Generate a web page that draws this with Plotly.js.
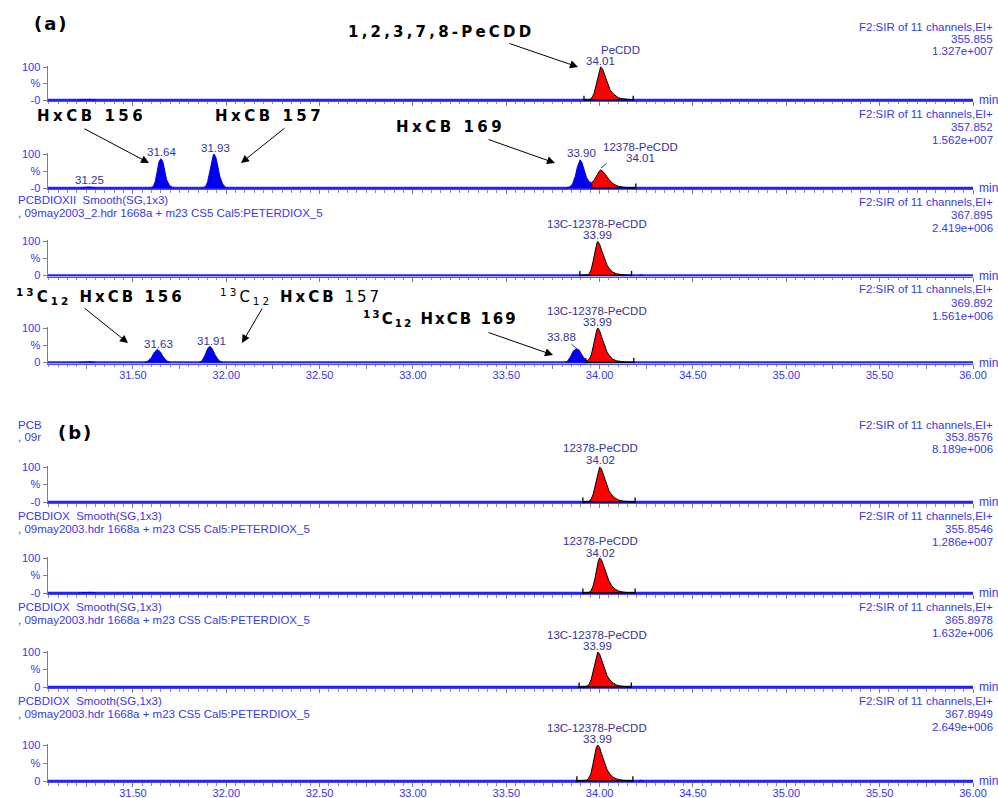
<!DOCTYPE html>
<html><head><meta charset="utf-8">
<script src="https://cdn.plot.ly/plotly-3.0.1.min.js"></script>
<style>html,body{margin:0;padding:0;background:#fff;}#chart{width:998px;height:798px;}</style>
</head><body><div id="chart"></div>
<script>
// ---------------- DATA (retention time in min, intensity in %) ----------------
const xRange = [31.045, 36.0];
const baselineX = [31.045, 36.0];
const baselineY = [0, 0];
const xTickVals = [31.25,31.5,31.75,32.0,32.25,32.5,32.75,33.0,33.25,33.5,33.75,34.0,34.25,34.5,34.75,35.0,35.25,35.5,35.75,36.0];
const xTickText = ['','31.50','','32.00','','32.50','','33.00','','33.50','','34.00','','34.50','','35.00','','35.50','','36.00'];
const yZeroLabels = ['-0','-0','0','0','-0','-0','0','0'];

// (a) panel 1 : 355.855
const a1BlipX = [31.21,31.24,31.27,31.30];
const a1BlipY = [0,2,2,0];
const a1RedX = [33.916,33.94,33.95,33.96,33.97,33.98,33.99,34.0,34.005,34.015,34.025,34.04,34.055,34.07,34.085,34.1,34.12,34.145,34.18];
const a1RedY = [0,0,3,8,20,42,70,93,100,95,80,52,32,20,12,7,4,2,0];
// (a) panel 2 : 357.852
const a2Blue1X = [31.22,31.24,31.26,31.28,31.30];
const a2Blue1Y = [0,2,3,2,0];
const a2Blue2X = [31.595,31.61,31.62,31.63,31.64,31.65,31.66,31.67,31.68,31.695,31.715];
const a2Blue2Y = [0,5,20,50,78,86,78,52,25,8,0];
const a2Blue3X = [31.875,31.89,31.90,31.91,31.92,31.93,31.935,31.945,31.955,31.965,31.98,32.0];
const a2Blue3Y = [0,5,18,45,75,96,100,88,62,35,12,0];
const a2Blue4X = [33.82,33.84,33.855,33.87,33.88,33.89,33.895,33.905,33.915,33.93,33.945,33.957];
const a2Blue4Y = [0,3,12,35,60,80,83,75,55,30,18,16];
const a2RedX = [33.957,33.97,33.98,33.99,34.0,34.005,34.015,34.03,34.045,34.06,34.08,34.1,34.13,34.16,34.194];
const a2RedY = [16,22,32,44,51,53,50,40,28,18,10,5,2,1,0];
// (a) panel 3 : 367.895
const a3RedX = [33.894,33.92,33.935,33.945,33.955,33.965,33.975,33.985,33.99,34.0,34.01,34.025,34.04,34.055,34.07,34.09,34.11,34.14,34.171];
const a3RedY = [0,0,2,6,18,42,72,95,100,92,75,50,30,18,10,5,3,1,0];
const a3BlipX = [34.21,34.22,34.235];
const a3BlipY = [0,2,0];
// (a) panel 4 : 369.892
const a4Blue1X = [31.21,31.24,31.27,31.30];
const a4Blue1Y = [0,2,2,0];
const a4Blue2X = [31.56,31.58,31.60,31.615,31.63,31.645,31.66,31.68,31.70];
const a4Blue2Y = [0,4,15,30,38,32,18,5,0];
const a4Blue3X = [31.855,31.87,31.885,31.90,31.912,31.925,31.94,31.96,31.98];
const a4Blue3Y = [0,5,20,40,47,40,22,6,0];
const a4Blue4X = [33.815,33.83,33.845,33.86,33.877,33.89,33.905,33.92,33.926];
const a4Blue4Y = [0,5,18,34,40,36,22,8,5];
const a4RedX = [33.926,33.935,33.945,33.955,33.965,33.975,33.985,33.99,34.0,34.01,34.025,34.04,34.055,34.07,34.09,34.11,34.14,34.183];
const a4RedY = [5,6,10,22,45,72,95,100,92,75,50,30,18,10,5,3,1,0];
// (b) panel 1 : 353.8576
const b1RedX = [33.91,33.935,33.945,33.955,33.965,33.975,33.985,33.993,34.0,34.01,34.02,34.035,34.05,34.065,34.08,34.1,34.12,34.15,34.19];
const b1RedY = [0,0,3,9,22,45,72,93,100,94,78,52,32,20,12,6,3,1,0];
// (b) panel 2 : 355.8546
const b2BlipX = [31.21,31.24,31.27,31.30];
const b2BlipY = [0,2,2,0];
const b2RedX = [33.91,33.935,33.945,33.955,33.965,33.975,33.985,33.993,34.0,34.01,34.02,34.035,34.05,34.065,34.08,34.1,34.12,34.15,34.19];
const b2RedY = [0,0,2,8,20,42,70,92,100,95,80,55,34,21,12,6,3,1,0];
// (b) panel 3 : 365.8978
const b3RedX = [33.89,33.92,33.935,33.945,33.955,33.965,33.975,33.983,33.99,34.0,34.01,34.025,34.04,34.055,34.07,34.09,34.11,34.14,34.17];
const b3RedY = [0,0,3,9,22,45,72,93,100,94,78,52,32,20,12,6,3,1,0];
// (b) panel 4 : 367.8949
const b4RedX = [33.878,33.915,33.93,33.942,33.953,33.963,33.973,33.982,33.99,34.0,34.01,34.025,34.04,34.055,34.07,34.09,34.11,34.14,34.178];
const b4RedY = [0,0,2,8,20,44,72,93,100,93,76,50,31,19,11,6,3,1,0];
const b4BlipX = [34.21,34.22,34.235];
const b4BlipY = [0,2,0];

// integration markers (start / end times)
const integStart = [33.916,33.957,33.894,33.926,33.91,33.91,33.89,33.878];
const integEnd   = [34.18,34.194,34.171,34.183,34.19,34.19,34.17,34.178];

// header texts
const massLabels = ['355.855','357.852','367.895','369.892','353.8576','355.8546','365.8978','367.8949'];
const scaleLabels = ['1.327e+007','1.562e+007','2.419e+006','1.561e+006','8.189e+006','1.286e+007','1.632e+006','2.649e+006'];

// ---------------- BUILD ----------------
const blueSeries = [
  [[a1BlipX,a1BlipY]],
  [[a2Blue1X,a2Blue1Y],[a2Blue2X,a2Blue2Y],[a2Blue3X,a2Blue3Y],[a2Blue4X,a2Blue4Y]],
  [[a3BlipX,a3BlipY]],
  [[a4Blue1X,a4Blue1Y],[a4Blue2X,a4Blue2Y],[a4Blue3X,a4Blue3Y],[a4Blue4X,a4Blue4Y]],
  [],
  [[b2BlipX,b2BlipY]],
  [],
  [[b4BlipX,b4BlipY]]
];
const redSeries = [[a1RedX,a1RedY],[a2RedX,a2RedY],[a3RedX,a3RedY],[a4RedX,a4RedY],[b1RedX,b1RedY],[b2RedX,b2RedY],[b3RedX,b3RedY],[b4RedX,b4RedY]];

// layout geometry (pixel rows of 100 % and 0 %)
const geo = [{T:67,B:100},{T:154,B:188},{T:241.5,B:275.5},{T:328,B:362.5},
             {T:467,B:502},{T:558,B:593},{T:652,B:687},{T:745,B:781}];
const W = 998, H = 798;
const PX = p => p / W, PY = p => 1 - p / H;
const FONT = 'Liberation Sans, Arial, sans-serif';
const BIG = 'DejaVu Sans, sans-serif';
const HEAD_COL = '#3838e8', LBL_COL = '#333399', TICK_COL = '#3535f0';

const traces = [];
const layout = {width:W, height:H, margin:{l:0,r:0,t:0,b:0}, paper_bgcolor:'#fff', plot_bgcolor:'#fff', showlegend:false, annotations:[]};

geo.forEach((g, i) => {
  const xa = i ? 'x' + (i + 1) : 'x', ya = i ? 'y' + (i + 1) : 'y';
  const unit = (g.B - g.T) / 100;
  const bot = g.B + 3 * unit, top = g.T - 4 * unit;
  const last = (i === 3 || i === 7);
  layout['xaxis' + (i ? i + 1 : '')] = {
    domain:[PX(48), PX(973)], range:xRange, anchor:ya, showline:true, linecolor:'#4a4aff', linewidth:1,
    ticks:'outside', tickmode:'array', tickvals:xTickVals, ticktext:xTickText, ticklen:4, tickwidth:1, tickcolor:'#808080',
    minor:{ticks:'outside', dtick:0.05, tick0:31.0, ticklen:2.5, tickwidth:1, tickcolor:'#909090', showgrid:false},
    showticklabels:last, tickfont:{family:FONT, size:11, color:TICK_COL}, ticklabelstandoff:-3,
    showgrid:false, zeroline:false, fixedrange:true
  };
  layout['yaxis' + (i ? i + 1 : '')] = {
    domain:[PY(bot), PY(top)], range:[-3,104], anchor:xa, showline:true, linecolor:'#808080', linewidth:1.5,
    ticks:'outside', tickmode:'array', tickvals:[0,50,100], ticktext:[yZeroLabels[i],'%','100'], ticklen:4, tickcolor:'#808080',
    tickfont:{family:FONT, size:11, color:TICK_COL}, showgrid:false, zeroline:false, fixedrange:true
  };
  // baseline trace
  traces.push({x:baselineX, y:baselineY, xaxis:xa, yaxis:ya, mode:'lines', line:{color:'#2222ff', width:2.5}, hoverinfo:'skip'});
  blueSeries[i].forEach(s => traces.push({x:s[0], y:s[1], xaxis:xa, yaxis:ya, mode:'lines', fill:'tozeroy',
    fillcolor:'#0000ee', line:{color:'#0000ee', width:1}, hoverinfo:'skip'}));
  const r = redSeries[i];
  traces.push({x:r[0], y:r[1], xaxis:xa, yaxis:ya, mode:'lines', fill:'tozeroy', fillcolor:'#ff0000',
    line:{color:'#000', width:1}, hoverinfo:'skip'});
  traces.push({x:[integStart[i],integStart[i],null,integStart[i],integEnd[i],null,integEnd[i],integEnd[i]],
    y:[13,-3,null,0.5,0.5,null,13,-3], xaxis:xa, yaxis:ya, mode:'lines', line:{color:'#000', width:1.3}, hoverinfo:'skip', connectgaps:false});
  // header at right
  const rowsR = i === 0 ? [27,39,51] : (i === 4 ? [425,437,449] : [geo[i-1].B + 14, geo[i-1].B + 27, geo[i-1].B + 40]);
  ['F2:SIR of 11 channels,EI+', massLabels[i], scaleLabels[i]].forEach((t, k) => {
    layout.annotations.push({text:t, xref:'paper', yref:'paper', x:PX(994), y:PY(rowsR[k]), xanchor:'right', yanchor:'middle',
      showarrow:false, borderpad:0, font:{family:FONT, size:11.5, color:HEAD_COL}});
  });
  // "min"
  layout.annotations.push({text:'min', xref:'paper', yref:'paper', x:PX(999), y:PY(g.B), xanchor:'right', yanchor:'middle',
    showarrow:false, borderpad:0, font:{family:FONT, size:12, color:HEAD_COL}});
  // left header
  let left = null;
  if (i === 2) left = ['PCBDIOXII  Smooth(SG,1x3)', ', 09may2003_2.hdr 1668a + m23 CS5 Cal5:PETERDIOX_5'];
  if (i === 4) left = ['PCB', ', 09r'];
  if (i >= 5) left = ['PCBDIOX  Smooth(SG,1x3)', ', 09may2003.hdr 1668a + m23 CS5 Cal5:PETERDIOX_5'];
  if (left) {
    left.forEach((t, k) => layout.annotations.push({text:t, xref:'paper', yref:'paper', x:PX(17), y:PY(rowsR[k] - (i===2?2:0)),
      xanchor:'left', yanchor:'middle', showarrow:false, borderpad:0, font:{family:FONT, size:11.5, color:HEAD_COL}}));
  }
});

// peak labels
function lbl(t, xp, yp) {
  layout.annotations.push({text:t, xref:'paper', yref:'paper', x:PX(xp), y:PY(yp), xanchor:'center', yanchor:'middle',
    showarrow:false, borderpad:0, font:{family:FONT, size:11.5, color:LBL_COL}});
}
lbl('PeCDD', 620, 50); lbl('34.01', 600, 61);
lbl('31.25', 89, 180); lbl('31.64', 161, 152); lbl('31.93', 215, 148); lbl('33.90', 581, 153);
lbl('12378-PeCDD', 640, 147); lbl('34.01', 640, 158);
lbl('13C-12378-PeCDD', 597, 224); lbl('33.99', 597, 235);
lbl('13C-12378-PeCDD', 597, 311); lbl('33.99', 597, 322); lbl('33.88', 561, 337);
lbl('31.63', 158, 344); lbl('31.91', 211, 341);
lbl('12378-PeCDD', 600, 448); lbl('34.02', 600, 460);
lbl('12378-PeCDD', 600, 541); lbl('34.02', 600, 553);
lbl('13C-12378-PeCDD', 597, 635); lbl('33.99', 597, 646);
lbl('13C-12378-PeCDD', 597, 728); lbl('33.99', 597, 739);

// connectors
function conn(hx, hy, tx, ty, col, head) {
  layout.annotations.push({text:'', xref:'paper', yref:'paper', x:PX(hx), y:PY(hy), ax:tx - hx, ay:ty - hy,
    showarrow:true, arrowhead:head, arrowsize:head ? 1.6 : 1, arrowwidth:1, arrowcolor:col, standoff:0, startstandoff:0});
}
conn(601, 168, 608, 162, LBL_COL, 0);
conn(577, 349, 570, 343, LBL_COL, 0);

// big labels
function big(t, xp, yp, size, sp) {
  layout.annotations.push({text:'<span style="letter-spacing:' + sp + 'px">' + t + '</span>', xref:'paper', yref:'paper',
    x:PX(xp), y:PY(yp), xanchor:'center', yanchor:'middle', showarrow:false, font:{family:BIG, size:size, color:'#000'}});
}
big('<b>(a)</b>', 51, 23, 18, 2);
big('<b>(b)</b>', 75, 432, 18, 2);
big('<b>1,2,3,7,8-PeCDD</b>', 441, 32, 15, 3.2);
big('<b>HxCB 156</b>', 91, 116, 15, 3.5);
big('<b>HxCB 157</b>', 269, 116, 15, 3.5);
big('<b>HxCB 169</b>', 450, 127, 15, 3.5);
big('<b><sup>13</sup>C<sub>12</sub> HxCB 156</b>', 100, 296, 15, 3);
big('<sup>13</sup>C<sub>12</sub> <b>HxCB</b> 157', 301, 296, 15, 3);
big('<b><sup>13</sup>C<sub>12</sub> HxCB 169</b>', 440, 318, 15, 2);
conn(578, 67, 508, 43, '#000', 2);
conn(149, 163, 83, 128, '#000', 2);
conn(241, 163, 286, 127, '#000', 2);
conn(555, 163, 487, 139, '#000', 2);
conn(128, 343, 83, 307, '#000', 2);
conn(242, 343, 263, 307, '#000', 2);
conn(553, 355, 487, 332, '#000', 2);

Plotly.newPlot('chart', traces, layout, {staticPlot:true, displayModeBar:false});
</script></body></html>
